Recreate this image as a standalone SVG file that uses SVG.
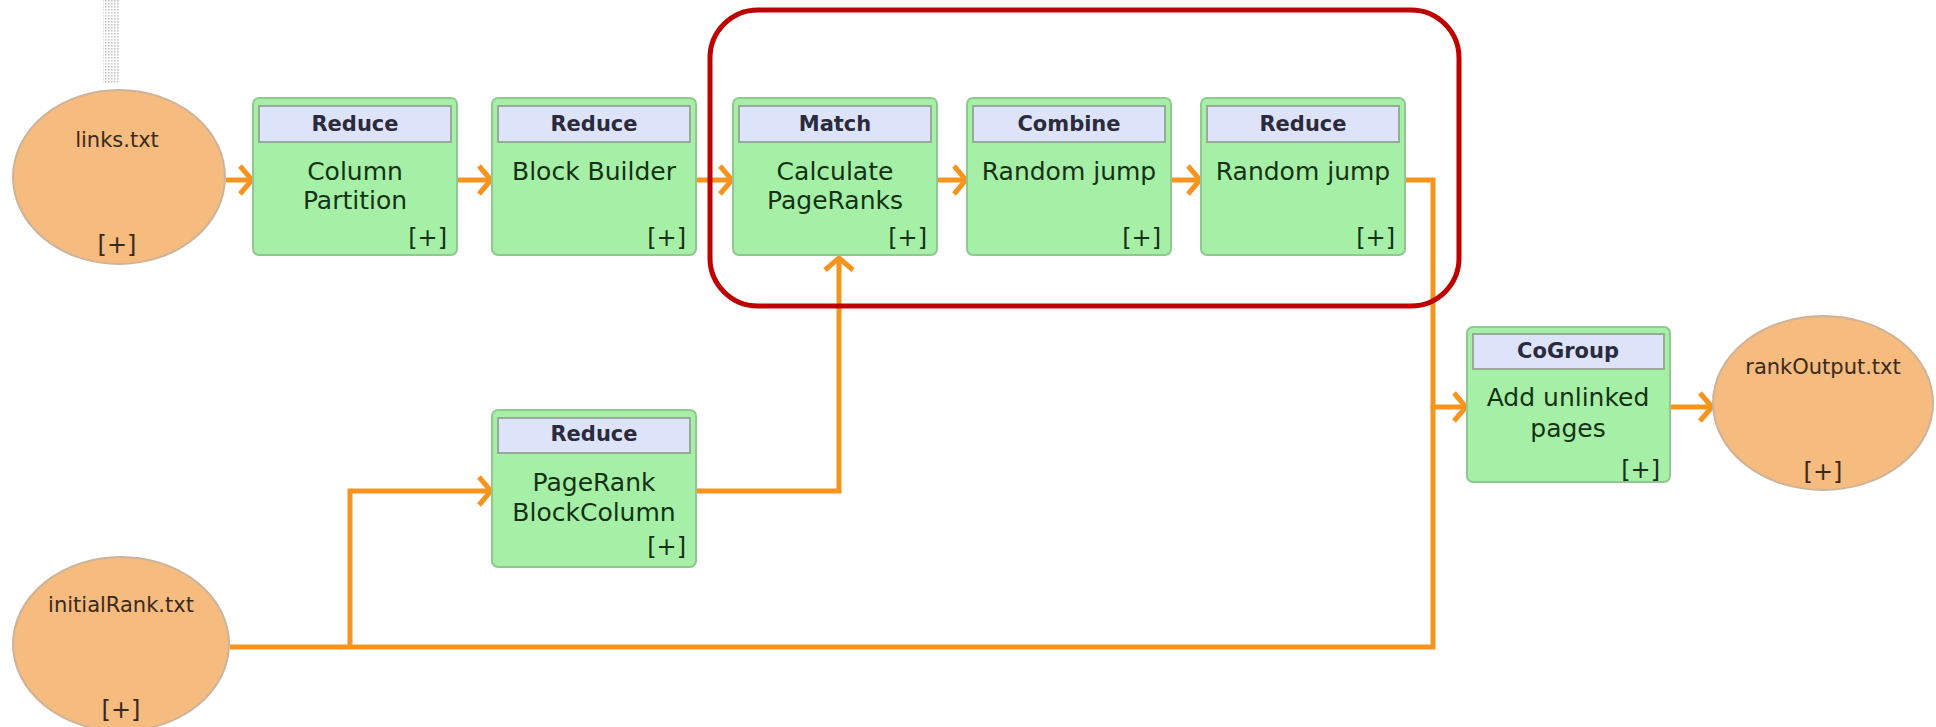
<svg xmlns="http://www.w3.org/2000/svg" width="1936" height="727" viewBox="0 0 1936 727">
<style>
.box{fill:#a6efa6;stroke:#8fc98f;stroke-width:2}
.hdr{fill:#dde3f9;stroke:#9aaa9a;stroke-width:2}
.ell{fill:#f5bb7f;stroke:#cdb39a;stroke-width:2}
.ht{font-family:"DejaVu Sans",sans-serif;font-weight:bold;font-size:21px;fill:#2b2b3d;text-anchor:middle}
.bt{font-family:"DejaVu Sans",sans-serif;font-size:25px;fill:#143214;text-anchor:middle}
.pl{font-family:"DejaVu Sans",sans-serif;font-size:24px;fill:#143214;text-anchor:end}
.et{font-family:"DejaVu Sans",sans-serif;font-size:21px;fill:#3a2a1c;text-anchor:middle}
.ep{font-family:"DejaVu Sans",sans-serif;font-size:24px;fill:#3a2a1c;text-anchor:middle}
.con{fill:none;stroke:#f7941d;stroke-width:5}
</style>
<defs>
<marker id="chev" markerUnits="userSpaceOnUse" markerWidth="40" markerHeight="40" viewBox="-20 -20 40 40" refX="0" refY="0" orient="auto" overflow="visible">
<path d="M-13,-14 L-1,0 L-13,14" fill="none" stroke="#f7941d" stroke-width="5"/>
</marker>
<pattern id="dots" width="3" height="3" patternUnits="userSpaceOnUse">
<rect width="3" height="3" fill="#ffffff"/>
<rect width="1.6" height="1.6" fill="#c8c8c8"/>
</pattern>
</defs>
<rect width="1936" height="727" fill="#ffffff"/>
<rect x="103" y="0" width="16" height="83" fill="url(#dots)"/>

<g id="connectors">
<path class="con" d="M226,180 H253" marker-end="url(#chev)"/>
<path class="con" d="M457,180 H492" marker-end="url(#chev)"/>
<path class="con" d="M696,180 H733" marker-end="url(#chev)"/>
<path class="con" d="M937,180 H967" marker-end="url(#chev)"/>
<path class="con" d="M1171,180 H1201" marker-end="url(#chev)"/>
<path class="con" d="M1405,180 H1433 V407 H1467" marker-end="url(#chev)"/>
<path class="con" d="M230,647 H1433 V405"/>
<path class="con" d="M350,647 V491 H492" marker-end="url(#chev)"/>
<path class="con" d="M697,491 H839 V257" marker-end="url(#chev)"/>
<path class="con" d="M1670,407 H1713" marker-end="url(#chev)"/>
</g>

<g id="links">
<ellipse class="ell" cx="119" cy="177" rx="106" ry="87"/>
<text class="et" x="117" y="147">links.txt</text>
<text class="ep" x="117" y="253">[+]</text>
</g>

<g id="column-partition">
<rect class="box" x="253" y="98" width="204" height="157" rx="6"/>
<rect class="hdr" x="259" y="106" width="192" height="36"/>
<text class="ht" x="355" y="131">Reduce</text>
<text class="bt" x="355" y="180">Column</text>
<text class="bt" x="355" y="209">Partition</text>
<text class="pl" x="447" y="246">[+]</text>
</g>

<g id="block-builder">
<rect class="box" x="492" y="98" width="204" height="157" rx="6"/>
<rect class="hdr" x="498" y="106" width="192" height="36"/>
<text class="ht" x="594" y="131">Reduce</text>
<text class="bt" x="594" y="180">Block Builder</text>
<text class="pl" x="686" y="246">[+]</text>
</g>

<g id="calculate-pageranks">
<rect class="box" x="733" y="98" width="204" height="157" rx="6"/>
<rect class="hdr" x="739" y="106" width="192" height="36"/>
<text class="ht" x="835" y="131">Match</text>
<text class="bt" x="835" y="180">Calculate</text>
<text class="bt" x="835" y="209">PageRanks</text>
<text class="pl" x="927" y="246">[+]</text>
</g>

<g id="random-jump-combine">
<rect class="box" x="967" y="98" width="204" height="157" rx="6"/>
<rect class="hdr" x="973" y="106" width="192" height="36"/>
<text class="ht" x="1069" y="131">Combine</text>
<text class="bt" x="1069" y="180">Random jump</text>
<text class="pl" x="1161" y="246">[+]</text>
</g>

<g id="random-jump-reduce">
<rect class="box" x="1201" y="98" width="204" height="157" rx="6"/>
<rect class="hdr" x="1207" y="106" width="192" height="36"/>
<text class="ht" x="1303" y="131">Reduce</text>
<text class="bt" x="1303" y="180">Random jump</text>
<text class="pl" x="1395" y="246">[+]</text>
</g>

<g id="pagerank-blockcolumn">
<rect class="box" x="492" y="410" width="204" height="157" rx="6"/>
<rect class="hdr" x="498" y="418" width="192" height="35"/>
<text class="ht" x="594" y="441">Reduce</text>
<text class="bt" x="594" y="491">PageRank</text>
<text class="bt" x="594" y="521">BlockColumn</text>
<text class="pl" x="686" y="555">[+]</text>
</g>

<g id="add-unlinked-pages">
<rect class="box" x="1467" y="327" width="203" height="155" rx="6"/>
<rect class="hdr" x="1473" y="334" width="191" height="35"/>
<text class="ht" x="1568" y="358">CoGroup</text>
<text class="bt" x="1568" y="406">Add unlinked</text>
<text class="bt" x="1568" y="437">pages</text>
<text class="pl" x="1660" y="478">[+]</text>
</g>

<g id="rankOutput">
<ellipse class="ell" cx="1823" cy="403" rx="110" ry="87"/>
<text class="et" x="1823" y="374">rankOutput.txt</text>
<text class="ep" x="1823" y="480">[+]</text>
</g>

<g id="initialRank">
<ellipse class="ell" cx="121" cy="644" rx="108" ry="87"/>
<text class="et" x="121" y="612">initialRank.txt</text>
<text class="ep" x="121" y="718">[+]</text>
</g>

<g id="highlight">
<rect x="710" y="10" width="749" height="296" rx="48" fill="none" stroke="#c00000" stroke-width="5"/>
</g>
</svg>
